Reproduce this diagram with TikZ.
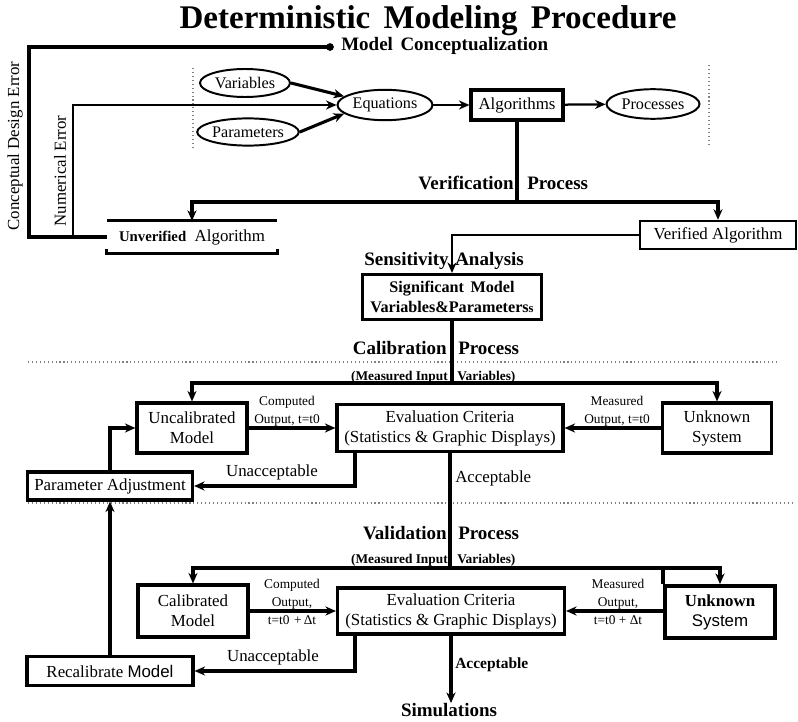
\documentclass[tikz,border=0pt]{standalone}
\usepackage{fontspec}
\setmainfont{Liberation Serif}
\newfontfamily\sysfont{Liberation Sans}
\usetikzlibrary{arrows.meta,shapes.geometric}
\tikzset{
  box/.style={draw,line width=2.2pt,align=center,inner sep=1pt,font=\fontsize{12}{14.2}\selectfont},
  oval/.style={draw,ellipse,line width=1.4pt,inner sep=0pt,font=\fontsize{11.5}{13}\selectfont},
  flow/.style={line width=2.2pt},
  thinflow/.style={line width=1.6pt},
  head/.style={inner sep=0pt,font=\bfseries\fontsize{13.5}{16}\selectfont},
  lbl/.style={inner sep=0pt,font=\fontsize{12}{14}\selectfont},
  iolbl/.style={inner sep=0pt,align=center,font=\fontsize{9.5}{12.8}\selectfont},
  inlbl/.style={inner sep=0pt,font=\bfseries\fontsize{9.5}{11}\selectfont},
  sep/.style={dotted,line width=0.8pt,gray}
}
\begin{document}
\begin{tikzpicture}[x=0.025cm,y=-0.025cm,>={Stealth[length=7.5pt,width=6.5pt]}]
  \useasboundingbox (0,0) rectangle (798,722);
  \node[font=\bfseries\fontsize{23.5}{26}\selectfont] (title) at (428,21) {Deterministic\hspace{.4em}Modeling\hspace{.4em}Procedure};
  \node[circle,fill,inner sep=0pt,minimum size=5.5pt] (mcdot) at (330,47) {};
  \node[head,anchor=west] (mc) at (341,46) {Model\hspace{.4em}Conceptualization};
  \node[lbl,rotate=90] (cdelbl) at (15,146) {Conceptual Design Error};
  \node[lbl,rotate=90] (nelbl) at (60,171) {Numerical Error};
  % modeling chain
  \draw[sep] (193,68) -- (193,147);
  \draw[sep] (709,65) -- (709,145);
  \node[oval,minimum width=2.25cm,minimum height=0.7cm] (var) at (245,83) {Variables};
  \node[oval,minimum width=2.35cm,minimum height=0.68cm] (par) at (248,132) {Parameters};
  \node[oval,minimum width=2.375cm,minimum height=0.76cm] (eq) at (385,105) {Equations};
  \node[box,minimum width=2.3cm,minimum height=0.75cm] (alg) at (517,105) {Algorithms};
  \node[oval,minimum width=2.325cm,minimum height=0.74cm] (proc) at (653,104) {Processes};
  \draw[flow,->] (var.east) -- (eq.168);
  \draw[flow,->] (par.east) -- (eq.192);
  \draw[thinflow,->] (eq) -- (alg);
  \draw[thinflow,->] (alg) -- (proc);
  % verification
  \node[head,anchor=east] (verif) at (514,183) {Verification};
  \node[head,anchor=west] (verproc) at (527,183) {Process};
  \node[box,draw=none,minimum width=4.175cm,minimum height=0.73cm] (unver) at (192,237) {\textbf{\fontsize{10.5}{12}\selectfont Unverified}\hspace{.5em}Algorithm};
  \draw[flow] (unver.north west) -- (unver.north east);
  \draw[flow] ([yshift=3pt]unver.south west) -- (unver.south west) -- (unver.south east) -- ([yshift=3pt]unver.south east);
  \node[box,line width=1.8pt,minimum width=3.9cm,minimum height=0.7cm] (ver) at (718,235) {Verified Algorithm};
  \coordinate (verj) at (517,202);
  \draw[flow,->] (alg.south) -- (verj) -| (unver.north);
  \draw[flow,->] (verj) -| (ver.north);
  \coordinate (ce1) at (29,47);
  \coordinate (ce2) at (29,237);
  \draw[flow] (mcdot.center) -- (ce1) -- (ce2) -- (unver.west);
  \coordinate (ne1) at (73,237);
  \coordinate (ne2) at (73,105);
  \draw[thinflow,->] (ne1) -- (ne2) -- (eq.west);
  % sensitivity
  \node[head,anchor=east] (sens) at (449,261) {Sensitivity};
  \node[head,anchor=west] (anal) at (455,261) {Analysis};
  \node[box,font=\bfseries\fontsize{11.5}{14.2}\selectfont,minimum width=4.475cm,minimum height=1.125cm] (sig) at (452,297) {Significant\hspace{.4em}Model\\Variables\&Parameters{\fontsize{9}{10}\selectfont s}};
  \coordinate (sj) at (452,235);
  \draw[thinflow,->] (ver.west) -- (sj) -- (sig.north);
  % calibration
  \node[head,anchor=east] (calib) at (447,348) {Calibration};
  \node[head,anchor=west] (calproc) at (458,348) {Process};
  \draw[sep] (28,362) -- (778,362);
  \node[inlbl,anchor=east] (mi1) at (448,377) {(Measured Input};
  \node[inlbl,anchor=west] (mv1) at (457,377) {Variables)};
  \node[box,minimum width=2.75cm,minimum height=1.25cm] (uncal) at (192,428) {Uncalibrated\\Model};
  \node[box,minimum width=5.65cm,minimum height=1.175cm] (eval1) at (450,428) {Evaluation Criteria\\(Statistics \& Graphic Displays)};
  \node[box,minimum width=2.725cm,minimum height=1.25cm] (unk1) at (717,428) {Unknown\\System};
  \node[box,minimum width=4.125cm,minimum height=0.7cm] (padj) at (110,486) {Parameter Adjustment};
  \coordinate (calj) at (452,383);
  \draw[flow] (sig.south) -- (calj);
  \draw[flow,->] (calj) -| (uncal.north);
  \draw[flow,->] (calj) -| (unk1.north);
  \draw[flow,->] (uncal) -- (eval1);
  \draw[flow,->] (unk1) -- (eval1);
  \node[iolbl] (cmp1) at (287,411) {Computed\\Output, t=t0};
  \node[iolbl] (mea1) at (617,411) {Measured\\Output, t=t0};
  \coordinate (u1) at (355,486);
  \draw[flow,->] (u1 |- eval1.south) -- (u1) -- (padj.east);
  \node[lbl] (unacc1) at (272,472) {Unacceptable};
  \coordinate (pa1) at (110,428);
  \draw[flow,->] (padj.north) -- (pa1) -- (uncal.west);
  \node[lbl,anchor=west] (acc1) at (455,478) {Acceptable};
  \draw[sep] (28,503) -- (795,503);
  % validation
  \node[head,anchor=east] (valid) at (447,533) {Validation};
  \node[head,anchor=west] (valproc) at (458,533) {Process};
  \node[inlbl,anchor=east] (mi2) at (448,560) {(Measured Input};
  \node[inlbl,anchor=west] (mv2) at (457,560) {Variables)};
  \node[box,minimum width=2.75cm,minimum height=1.3cm] (cal) at (193,611) {Calibrated\\Model};
  \node[box,minimum width=5.675cm,minimum height=1.15cm] (eval2) at (451,611) {Evaluation Criteria\\(Statistics \& Graphic Displays)};
  \node[box,line width=2.8pt,minimum width=2.75cm,minimum height=1.3cm] (unk2) at (720,612) {\textbf{Unknown}\\{\sysfont System}};
  \node[box,minimum width=4.15cm,minimum height=0.725cm] (recal) at (110,671) {Recalibrate {\sysfont Model}};
  \coordinate (valj) at (450,568);
  \draw[flow] (eval1.south) -- (valj);
  \draw[flow,->] (valj) -| (cal.north);
  \draw[flow,->] (valj) -| (unk2.north);
  \draw[flow] (valj -| unk2.north west) -- (unk2.north west);
  \draw[flow,->] (cal.east |- eval2.west) -- (eval2.west);
  \draw[flow,->] (unk2.west |- eval2.east) -- (eval2.east);
  \node[iolbl] (cmp2) at (292,602) {Computed\\Output,\\t=t0\,\,+\,Δt};
  \node[iolbl] (mea2) at (618,602) {Measured\\Output,\\t=t0 + Δt};
  \coordinate (u2) at (355,671);
  \draw[flow,->] (u2 |- eval2.south) -- (u2) -- (recal.east);
  \node[lbl] (unacc2) at (273,657) {Unacceptable};
  \draw[line width=2.8pt,->] (recal.north) -- (padj.south);
  \node[lbl,anchor=west,font=\bfseries\fontsize{11}{13}\selectfont] (acc2) at (455,665) {Acceptable};
  \node[head] (sim) at (449,710) {Simulations};
  \draw[flow,->] (eval2.south) -- (eval2.south |- sim.north);
\end{tikzpicture}
\end{document}
